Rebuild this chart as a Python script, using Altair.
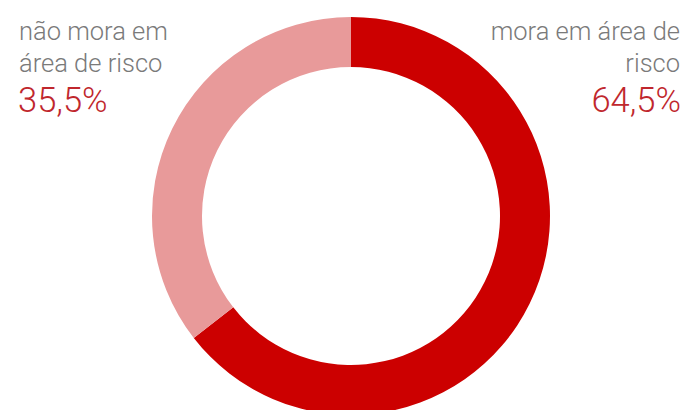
import altair as alt
import pandas as pd

categories = ["mora em área de risco", "não mora em área de risco"]
values = [64.5, 35.5]
colors = ["#CC0000", "#E89A9A"]
value_labels = ["64,5%", "35,5%"]
left_lines = ["não mora em", "área de risco"]
right_lines = ["mora em área de", "risco"]

df = pd.DataFrame({"cat": categories, "val": values, "order": [0, 1]})

arc = alt.Chart(df).mark_arc(radius=199, radius2=149, stroke=None).encode(
    theta=alt.Theta("val:Q", stack=True),
    order=alt.Order("order:Q"),
    color=alt.Color("cat:N", scale=alt.Scale(domain=categories, range=colors), legend=None),
    x=alt.value(351),
    y=alt.value(216),
)

FONT = "Roboto"
GRAY = "#7a7a7a"
RED = "#C0272D"

def txt(text, x, y, align, size, color):
    return alt.Chart(pd.DataFrame({"t": [text]})).mark_text(
        align=align, baseline="alphabetic", font=FONT, fontSize=size,
        fontWeight=300, color=color
    ).encode(text="t:N", x=alt.value(x), y=alt.value(y))

layers = [arc]
layers.append(txt(left_lines[0], 19, 40, "left", 25.5, GRAY))
layers.append(txt(left_lines[1], 19, 72, "left", 25.5, GRAY))
layers.append(txt(value_labels[1], 18, 112, "left", 34.5, RED))
layers.append(txt(right_lines[0], 680, 40, "right", 25.5, GRAY))
layers.append(txt(right_lines[1], 680, 72, "right", 25.5, GRAY))
layers.append(txt(value_labels[0], 681, 112, "right", 34.5, RED))

chart = alt.layer(*layers).properties(
    width=683, height=410, padding=0, autosize="none"
).configure_view(stroke=None)

chart.save("out.html", embed_options={"renderer": "svg", "actions": False})
